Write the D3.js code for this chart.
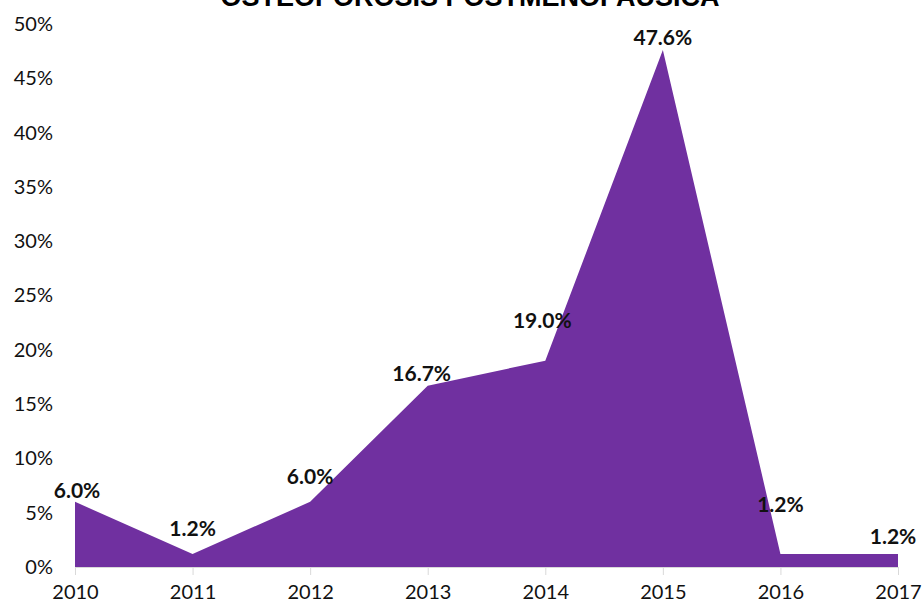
<!DOCTYPE html>
<html>
<head>
<meta charset="utf-8">
<script src="https://cdn.jsdelivr.net/npm/d3@7"></script>
<style>
  body { margin: 0; background: #fff; }
  svg { display: block; }
</style>
</head>
<body>
<div id="chart"></div>
<script>
// datos del gráfico
const years = ["2010", "2011", "2012", "2013", "2014", "2015", "2016", "2017"];
const values = [6.0, 1.2, 6.0, 16.7, 19.0, 47.6, 1.2, 1.2];
const yTicks = [0, 5, 10, 15, 20, 25, 30, 35, 40, 45, 50];
const title = "OSTEOPOROSIS POSTMENOPAUSICA";

// desplazamiento de cada etiqueta (como en el original)
const labelNudge = [-9, -23, -23, -10, -38, -10, -47, -15];
const labelShiftX = [2, 0, 0, -6, -3, 0, 0, -5];

const W = 924, H = 607;
const margin = { top: 24, right: 26, bottom: 40, left: 75 };

const svg = d3.select("#chart").append("svg")
    .attr("width", W).attr("height", H);

const x = d3.scalePoint()
    .domain(years)
    .range([margin.left, W - margin.right]);

const y = d3.scaleLinear()
    .domain([0, 50])
    .range([H - margin.bottom, margin.top]);

// título (cortado arriba, igual que en la imagen original)
svg.append("text")
    .attr("x", 470).attr("y", 6)
    .attr("text-anchor", "middle")
    .style("font-family", "Liberation Sans, Arial, sans-serif")
    .style("font-weight", "bold")
    .style("font-size", "27px")
    .attr("fill", "#000")
    .text(title);

// eje X
const xAxis = svg.append("g")
    .attr("transform", `translate(0,${y(0)})`)
    .call(d3.axisBottom(x).tickSize(8).tickPadding(10));
xAxis.select(".domain").attr("stroke", "#d9d9d9");
xAxis.selectAll(".tick line").attr("stroke", "#d9d9d9");
xAxis.selectAll("text")
    .style("font-family", "Lato, sans-serif")
    .style("font-size", "20px")
    .attr("fill", "#111");

// eje Y
const yAxis = svg.append("g")
    .attr("transform", `translate(${margin.left},0)`)
    .call(d3.axisLeft(y).tickValues(yTicks).tickFormat(d => d + "%").tickSize(0).tickPadding(22));
yAxis.select(".domain").remove();
yAxis.selectAll("text")
    .style("font-family", "Lato, sans-serif")
    .style("font-size", "20px")
    .attr("fill", "#111");

// área
const area = d3.area()
    .x((d, i) => x(years[i]))
    .y0(y(0))
    .y1(d => y(d));

svg.append("path")
    .datum(values)
    .attr("d", area)
    .attr("fill", "#7030a0");

// etiquetas de datos
svg.selectAll(".lbl")
    .data(values)
    .enter().append("text")
    .attr("class", "lbl")
    .attr("x", (d, i) => x(years[i]) + labelShiftX[i])
    .attr("y", (d, i) => y(d) + labelNudge[i])
    .attr("text-anchor", "middle")
    .attr("dominant-baseline", "middle")
    .style("font-family", "Lato, sans-serif")
    .style("font-weight", "bold")
    .style("font-size", "21px")
    .attr("fill", "#111")
    .text(d => d.toFixed(1) + "%");
</script>
</body>
</html>
